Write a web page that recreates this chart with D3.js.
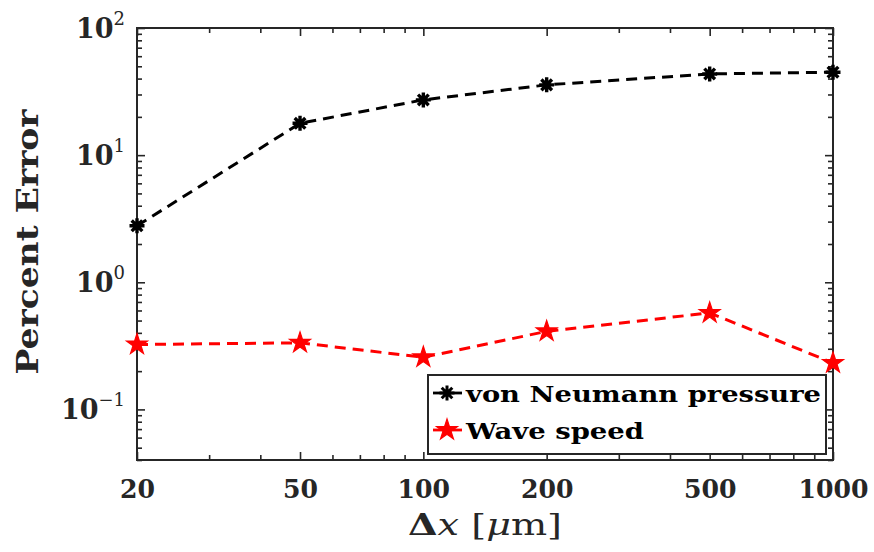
<!DOCTYPE html>
<html><head><meta charset="utf-8">
<script src="https://cdn.jsdelivr.net/npm/d3@7"></script>
<style>body{margin:0;background:#fff}</style>
</head><body><svg id="chart" width="874" height="552"></svg>
<script>
// Grid spacing and percent errors of the two measured quantities
const dxValues = [20, 50, 100, 200, 500, 1000];
const pressureError = [2.78, 17.8, 27.2, 35.7, 43.5, 44.9];
const waveSpeedError = [0.324, 0.334, 0.257, 0.411, 0.574, 0.232];
const xTickLabels = ["20", "50", "100", "200", "500", "1000"];
const yTickValues = [0.1, 1, 10, 100];
const yTickExponents = ["\u22121", "0", "1", "2"];
const seriesNames = ["von Neumann pressure", "Wave speed"];

const svg = d3.select("#chart");
const font = "'DejaVu Serif', serif";
const axisColor = "#262626";
const plot = {left: 137, right: 833, top: 28, bottom: 460};

const x = d3.scaleLog().domain([20, 1000]).range([plot.left, plot.right]);
const y = d3.scaleLog().domain([0.04, 100]).range([plot.bottom, plot.top]);

// minor tick positions for the log axes
const xMinor = [30, 40, 60, 70, 80, 90, 300, 400, 600, 700, 800, 900];
const yMinor = [];
for (const dec of [0.01, 0.1, 1, 10]) {
  for (let k = 2; k <= 9; k++) {
    const v = +(k * dec).toPrecision(3);
    if (v >= 0.04 && v < 100) yMinor.push(v);
  }
}

svg.append("rect").attr("width", 874).attr("height", 552).attr("fill", "#fff");

function tickGroup(axis, tx, ty) {
  const g = svg.append("g").attr("transform", `translate(${tx},${ty})`).call(axis);
  g.select(".domain").remove();
  g.selectAll(".tick line").attr("stroke", axisColor).attr("stroke-width", 1.6);
  return g;
}

// inward ticks on all four sides
const bottomMajor = tickGroup(d3.axisBottom(x).tickValues(dxValues).tickSize(-8)
  .tickFormat((d, i) => xTickLabels[i]), 0, plot.bottom);
tickGroup(d3.axisBottom(x).tickValues(xMinor).tickSize(-5).tickFormat(""), 0, plot.bottom);
tickGroup(d3.axisTop(x).tickValues(dxValues).tickSize(-8).tickFormat(""), 0, plot.top);
tickGroup(d3.axisTop(x).tickValues(xMinor).tickSize(-5).tickFormat(""), 0, plot.top);
const leftMajor = tickGroup(d3.axisLeft(y).tickValues(yTickValues).tickSize(-8).tickFormat(""), plot.left, 0);
tickGroup(d3.axisLeft(y).tickValues(yMinor).tickSize(-5).tickFormat(""), plot.left, 0);
tickGroup(d3.axisRight(y).tickValues(yTickValues).tickSize(-8).tickFormat(""), plot.right, 0);
tickGroup(d3.axisRight(y).tickValues(yMinor).tickSize(-5).tickFormat(""), plot.right, 0);

bottomMajor.selectAll(".tick text")
  .attr("y", 38).attr("dy", 0)
  .attr("fill", axisColor)
  .style("font-family", font).style("font-weight", "bold").style("font-size", "26px")
  .attr("textLength", (d, i) => 17.5 * xTickLabels[i].length)
  .attr("lengthAdjust", "spacingAndGlyphs");

// y tick labels as powers of ten
leftMajor.selectAll(".tick").each(function(d, i) {
  const t = d3.select(this).append("text")
    .attr("x", -12).attr("y", 9)
    .attr("text-anchor", "end")
    .attr("fill", axisColor)
    .style("font-family", font).style("font-weight", "bold").style("font-size", "27px");
  t.append("tspan").text("10");
  t.append("tspan").attr("dy", -13).style("font-size", "18px").style("font-weight", "normal").text(yTickExponents[i]);
});

// axes box
svg.append("rect")
  .attr("x", plot.left).attr("y", plot.top)
  .attr("width", plot.right - plot.left).attr("height", plot.bottom - plot.top)
  .attr("fill", "none").attr("stroke", axisColor).attr("stroke-width", 2);

// marker shapes
function asteriskPath(r) {
  let p = "";
  for (let a = 0; a < 4; a++) {
    const ang = a * Math.PI / 4;
    const dx = r * Math.cos(ang), dy = r * Math.sin(ang);
    p += `M${-dx},${-dy}L${dx},${dy}`;
  }
  return p;
}
function pentagramPath(R) {
  const r = R * 0.382;
  const pts = [];
  for (let k = 0; k < 10; k++) {
    const ang = -Math.PI / 2 + k * Math.PI / 5;
    const rad = k % 2 === 0 ? R : r;
    pts.push([rad * Math.cos(ang), rad * Math.sin(ang)]);
  }
  return "M" + pts.map(p => p.join(",")).join("L") + "Z";
}

const series = [
  {name: seriesNames[0], values: pressureError, color: "#000000", marker: asteriskPath(7.5), filled: false},
  {name: seriesNames[1], values: waveSpeedError, color: "#ff0000", marker: pentagramPath(11), filled: true}
];

const line = d3.line().x(d => x(d[0])).y(d => y(d[1]));

series.forEach(s => {
  const pts = dxValues.map((dx, i) => [dx, s.values[i]]);
  svg.append("path").datum(pts).attr("d", line)
    .attr("fill", "none").attr("stroke", s.color)
    .attr("stroke-width", 3).attr("stroke-dasharray", "11,7");
  svg.selectAll(null).data(pts).enter().append("path")
    .attr("transform", d => `translate(${x(d[0])},${y(d[1])})`)
    .attr("d", s.marker)
    .attr("fill", s.filled ? s.color : "none")
    .attr("stroke", s.color).attr("stroke-width", s.filled ? 1.2 : 3.4)
    .attr("stroke-linejoin", "miter");
});

// legend
const legend = svg.append("g");
legend.append("rect").attr("x", 428).attr("y", 375).attr("width", 398).attr("height", 79)
  .attr("fill", "#fff").attr("stroke", axisColor).attr("stroke-width", 2);
const rowY = [393, 430];
const textW = [355, 178];
series.forEach((s, i) => {
  legend.append("line").attr("x1", 433).attr("x2", 462).attr("y1", rowY[i]).attr("y2", rowY[i])
    .attr("stroke", s.color).attr("stroke-width", 2.8);
  legend.append("path").attr("transform", `translate(447,${rowY[i]})`).attr("d", s.marker)
    .attr("fill", s.filled ? s.color : "none").attr("stroke", s.color)
    .attr("stroke-width", s.filled ? 1.2 : 3);
  legend.append("text").attr("x", 466).attr("y", rowY[i] + 8.5)
    .attr("fill", "#000")
    .style("font-family", font).style("font-weight", "bold").style("font-size", "23px")
    .attr("textLength", textW[i]).attr("lengthAdjust", "spacingAndGlyphs")
    .text(s.name);
});

// axis titles
svg.append("text")
  .attr("transform", "translate(38,242) rotate(-90)")
  .attr("text-anchor", "middle").attr("fill", axisColor)
  .style("font-family", font).style("font-weight", "bold").style("font-size", "30px")
  .attr("textLength", 265).attr("lengthAdjust", "spacingAndGlyphs")
  .text("Percent Error");

const xt = svg.append("text").attr("x", 485).attr("y", 535)
  .attr("text-anchor", "middle").attr("fill", axisColor)
  .style("font-family", font).style("font-size", "30px")
  .attr("textLength", 154).attr("lengthAdjust", "spacingAndGlyphs");
xt.append("tspan").style("font-weight", "bold").text("\u0394");
xt.append("tspan").style("font-style", "italic").text("x");
xt.append("tspan").text(" [");
xt.append("tspan").style("font-style", "italic").text("\u03bc");
xt.append("tspan").text("m]");
</script>
</body></html>
